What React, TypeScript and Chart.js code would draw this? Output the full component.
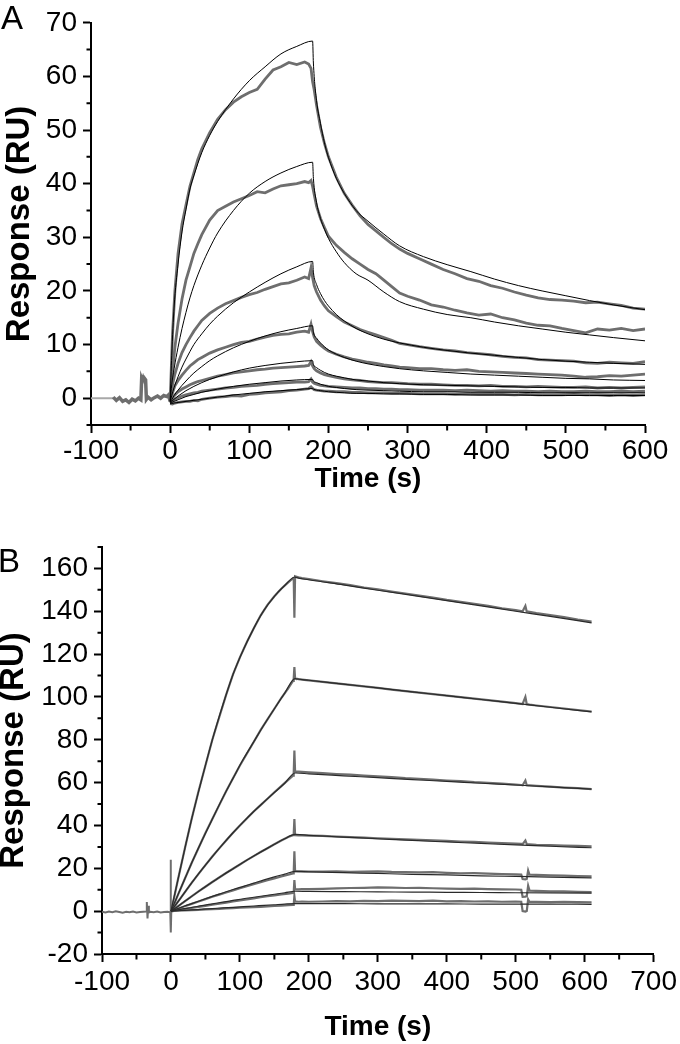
import React, { useEffect, useRef } from "react";
import { Chart, registerables } from "chart.js";
Chart.register(...registerables);

const FONT = "'Liberation Sans', Arial, Helvetica, sans-serif";

// ---------------- Panel A ----------------
const xTicksA = [-100, 0, 100, 200, 300, 400, 500, 600];
const xMinorA = [-50, 50, 150, 250, 350, 450, 550];
const yTicksA = [0, 10, 20, 30, 40, 50, 60, 70];
const yMinorA = [-5, 5, 15, 25, 35, 45, 55, 65];

const tA_pre = [-100, -72];
const A_pre = [0, 0];

const tA_base = [-72, -68, -64, -60, -56, -52, -48, -44, -40, -37, -36, -35, -34, -33, -32, -31, -30, -28, -24, -20, -16, -12, -8, -4, -2, 0];
const A_base = [0.2, -0.4, 0.1, -0.6, -0.3, -0.8, -0.2, -0.5, 0, -0.3, 3.6, 3.2, 3.7, 3.3, 3.6, 3.4, -0.2, 0.2, -0.3, 0.1, 0.4, 0, 0.5, 0.3, 0.6, -0.6];

const tA = [0, 3, 6, 10, 15, 20, 25, 30, 35, 40, 50, 60, 70, 80, 90, 100, 110, 120, 130, 140, 150, 160, 170, 175, 178, 180, 182, 185, 190, 195, 200, 210, 220, 230, 240, 250, 260, 270, 280, 290, 300, 315, 330, 345, 360, 375, 390, 405, 420, 435, 450, 465, 480, 495, 510, 525, 540, 555, 570, 585, 600];
const A_d1 = [-0.5, 12, 20, 27, 32.5, 36, 39.5, 42, 44.5, 46.5, 49.5, 52, 53.8, 55.2, 56.2, 57, 57.6, 59.5, 61.2, 61.8, 62.6, 62.2, 62.7, 62.3, 61.5, 59, 57.5, 54.6, 50.5, 47.5, 45, 41.2, 38.2, 36, 34, 32.4, 31.2, 30, 28.8, 27.8, 27, 26, 25, 24, 23.2, 22.3, 21.8, 21, 20.5, 19.8, 19.2, 18.7, 18.4, 18.3, 18.1, 17.8, 17.9, 17.6, 17.3, 16.8, 16.6];
const A_d2 = [-0.6, 5, 9.5, 14, 18.5, 22, 24.5, 27, 28.8, 30.5, 33.2, 35, 35.8, 36.6, 37.2, 37.8, 38.5, 38.3, 39, 39.6, 39.8, 40, 40.4, 40.2, 40.6, 39.5, 38, 35.8, 33.5, 31.8, 30.2, 28.5, 27.2, 26, 25, 24, 23.2, 22, 20.8, 19.6, 19, 18.3, 17.4, 17, 16.4, 15.9, 15.5, 15.7, 15, 14.6, 14, 13.6, 13.5, 13, 12.6, 12.2, 12.9, 12.7, 13, 12.6, 12.9];
const A_d3 = [-0.6, 2.5, 4.5, 6.5, 8.5, 10, 11.3, 12.5, 13.5, 14.5, 15.8, 16.8, 17.6, 18.2, 18.8, 19.3, 19.7, 20.3, 20.8, 21.3, 21.5, 22, 22.6, 22.3, 24.3, 22.5, 21, 19.8, 18.3, 17.2, 16.3, 15.2, 14.2, 13.5, 12.8, 12.3, 11.8, 11.3, 10.8, 10.2, 10, 9.6, 9.3, 9, 8.8, 8.5, 8.3, 8.1, 7.8, 7.6, 7.5, 7.2, 7.1, 7, 6.9, 6.6, 6.5, 6.7, 6.6, 6.5, 6.8];
const A_d4 = [-0.7, 1, 2.3, 3.3, 4.3, 5.2, 6, 6.6, 7.2, 7.6, 8.4, 9, 9.5, 10, 10.4, 10.6, 11, 11.4, 11.7, 11.9, 12, 12.3, 12.5, 12.3, 13.8, 12.4, 11.4, 10.6, 9.9, 9.3, 8.8, 8.2, 7.7, 7.3, 7, 6.7, 6.5, 6.2, 6, 5.8, 5.7, 5.5, 5.5, 5.3, 5.2, 5.3, 5, 4.9, 4.8, 4.7, 4.6, 4.5, 4.4, 4.3, 4.1, 3.9, 4, 4.2, 4.1, 4.3, 4.5];
const A_d5 = [-0.8, 0, 0.6, 1.2, 1.7, 2.1, 2.5, 2.8, 3.1, 3.3, 3.7, 4.1, 4.4, 4.7, 4.9, 5.1, 5.3, 5.4, 5.6, 5.7, 5.8, 5.9, 6, 6.1, 6.8, 6, 5.5, 5.1, 4.7, 4.4, 4.2, 3.9, 3.6, 3.4, 3.3, 3.1, 3, 2.9, 2.9, 2.8, 2.7, 2.6, 2.6, 2.5, 2.4, 2.4, 2.3, 2.4, 2.2, 2.2, 2.1, 2.2, 2.1, 2, 2, 2.1, 1.9, 2, 1.9, 2, 2.1];
const A_d6 = [-0.9, -0.5, -0.2, 0.1, 0.4, 0.6, 0.8, 1, 1.1, 1.3, 1.5, 1.7, 1.9, 2, 2.2, 2.3, 2.4, 2.6, 2.7, 2.8, 2.9, 3, 3, 3.1, 3.6, 3, 2.8, 2.6, 2.4, 2.3, 2.2, 2.1, 2, 1.9, 1.9, 1.8, 1.8, 1.7, 1.7, 1.6, 1.6, 1.5, 1.5, 1.5, 1.4, 1.5, 1.4, 1.3, 1.4, 1.3, 1.3, 1.2, 1.3, 1.2, 1.2, 1.3, 1.2, 1.2, 1.3, 1.2, 1.3];
const A_d7 = [-1, -1.1, -0.9, -0.8, -0.7, -0.6, -0.6, -0.4, -0.5, -0.2, 0, 0.2, 0.3, 0.5, 0.4, 0.7, 0.8, 1, 1.1, 1.2, 1.4, 1.5, 1.7, 1.8, 2.1, 1.8, 1.6, 1.5, 1.4, 1.3, 1.3, 1.2, 1.2, 1.1, 1.1, 1, 1, 1, 0.9, 0.9, 0.9, 0.8, 0.8, 0.8, 0.7, 0.8, 0.7, 0.7, 0.7, 0.6, 0.7, 0.6, 0.6, 0.6, 0.7, 0.6, 0.6, 0.5, 0.6, 0.5, 0.6];

const tA_fit = [0, 2, 5, 10, 15, 20, 25, 30, 40, 50, 60, 80, 100, 120, 140, 160, 180, 181, 185, 190, 195, 200, 210, 220, 235, 250, 270, 290, 320, 350, 380, 410, 440, 470, 500, 530, 560, 600];
const A_f1 = [-0.5, 8, 17, 25, 31, 35.2, 39, 41.5, 45.8, 49, 51.6, 55.8, 59.2, 61.8, 64.2, 65.6, 66.6, 62.5, 55.5, 51.2, 47.6, 44.9, 41, 38.2, 35, 33, 30.6, 28.4, 26.4, 24.9, 23.6, 22.2, 21, 20, 19.1, 18.2, 17.4, 16.5];
const A_f2 = [-0.6, 2.5, 5.5, 9.5, 13, 16, 18.7, 21, 24.8, 28, 30.8, 35, 38.2, 40.4, 42, 43.2, 44, 41, 36.5, 33.5, 31.5, 29.8, 27.3, 25.3, 23.2, 22, 19.8, 18, 16.6, 15.6, 15, 14.2, 13.5, 12.9, 12.3, 11.8, 11.3, 10.7];
const A_f3 = [-0.6, 0.5, 2, 4, 5.8, 7.3, 8.7, 10, 12, 13.8, 15.3, 17.8, 19.8, 21.6, 23.2, 24.5, 25.5, 23.5, 21.2, 19.5, 18.2, 17.2, 15.6, 14.4, 13, 12, 11, 10.3, 9.5, 8.9, 8.4, 8, 7.6, 7.2, 6.9, 6.7, 6.5, 6.3];
const A_f4 = [-0.7, -0.3, 0.5, 1.5, 2.4, 3.2, 4, 4.7, 5.9, 7, 7.9, 9.4, 10.6, 11.6, 12.4, 13, 13.5, 12.3, 11.2, 10.3, 9.6, 9, 8.2, 7.6, 6.9, 6.4, 5.9, 5.5, 5.1, 4.8, 4.5, 4.3, 4.1, 3.9, 3.7, 3.6, 3.4, 3.3];
const A_f5 = [-0.8, -0.6, -0.2, 0.4, 0.9, 1.4, 1.8, 2.2, 2.9, 3.5, 4, 4.9, 5.6, 6.1, 6.5, 6.8, 7, 6.3, 5.7, 5.2, 4.8, 4.5, 4.1, 3.8, 3.4, 3.2, 2.9, 2.7, 2.5, 2.4, 2.3, 2.2, 2.1, 2, 2, 1.9, 1.9, 1.9];
const A_f6 = [-0.9, -0.8, -0.6, -0.3, 0, 0.3, 0.5, 0.7, 1.1, 1.4, 1.7, 2.2, 2.6, 2.9, 3.2, 3.4, 3.5, 3.2, 2.9, 2.6, 2.4, 2.2, 2, 1.8, 1.6, 1.5, 1.4, 1.3, 1.2, 1.2, 1.1, 1.1, 1.1, 1, 1, 1, 1, 1];
const A_f7 = [-1, -1, -0.9, -0.8, -0.7, -0.6, -0.5, -0.4, -0.2, 0, 0.2, 0.6, 0.9, 1.2, 1.4, 1.6, 1.8, 1.7, 1.5, 1.4, 1.3, 1.2, 1.1, 1, 0.9, 0.9, 0.8, 0.8, 0.7, 0.7, 0.6, 0.6, 0.6, 0.5, 0.5, 0.5, 0.5, 0.5];

// ---------------- Panel B ----------------
const xTicksB = [-100, 0, 100, 200, 300, 400, 500, 600, 700];
const xMinorB = [-50, 50, 150, 250, 350, 450, 550, 650];
const yTicksB = [-20, 0, 20, 40, 60, 80, 100, 120, 140, 160];
const yMinorB = [-10, 10, 30, 50, 70, 90, 110, 130, 150, 170];

const tB_base = [-100, -95, -90, -85, -80, -75, -70, -65, -60, -55, -50, -45, -40, -36, -35, -34, -33, -32, -30, -25, -20, -15, -10, -5, -2, -1, -0.5, 0, 0.5];
const B_base = [-0.3, -0.6, -0.2, -0.5, -0.1, -0.4, -0.7, -0.3, -0.5, -0.2, -0.6, -0.4, -0.3, -0.2, 4.3, -3.4, 2.5, -0.6, -0.3, -0.5, -0.2, -0.6, -0.4, -0.3, -0.5, -0.3, 24, -10, 0];

const tB = [0, 1, 2, 5, 10, 20, 30, 40, 50, 60, 70, 80, 90, 100, 110, 120, 130, 140, 150, 160, 170, 177, 178, 179, 180, 181, 185, 190, 200, 220, 240, 260, 280, 300, 320, 340, 360, 380, 400, 420, 440, 460, 480, 500, 508, 510, 514, 516, 518, 520, 530, 550, 570, 590, 610];
const B_d1 = [0, 0.5, 2.5, 7, 14.5, 29, 43, 56, 68, 80, 90.5, 101, 110.5, 118.5, 125.5, 132, 138, 143, 147, 150.5, 153.5, 155.5, 156, 137, 156.3, 156.2, 155.8, 155.5, 155, 154, 153.1, 152.2, 151.1, 150.2, 149.2, 148.3, 147.3, 146.4, 145.3, 144.4, 143.5, 142.5, 141.4, 140.5, 140.1, 140, 142.5, 139.8, 139.8, 139.7, 139.1, 138.2, 137.3, 136.1, 135.2];
const B_d2 = [0, 0.3, 1, 3.5, 7.5, 15, 22.5, 29.5, 36.5, 43, 49.5, 56, 62, 68, 73.5, 79, 84.5, 89.5, 94.5, 99.5, 104, 107.5, 108.5, 114, 108.8, 108.6, 108.3, 108.1, 107.7, 107, 106.3, 105.6, 104.9, 104.2, 103.4, 102.7, 102, 101.3, 100.6, 99.9, 99.2, 98.5, 97.8, 97.1, 96.8, 96.7, 100, 96.6, 96.5, 96.4, 96, 95.3, 94.6, 93.9, 93.2];
const B_d3 = [0, 0.2, 0.5, 2, 4.3, 8.8, 13.2, 17.4, 21.5, 25.5, 29.3, 33, 36.6, 40, 43.3, 46.5, 49.5, 52.5, 55.5, 58.4, 61.3, 63.3, 64, 75, 65.3, 65.2, 65.1, 65, 64.8, 64.4, 64, 63.7, 63.3, 62.9, 62.6, 62.1, 61.8, 61.4, 61, 60.7, 60.2, 59.9, 59.5, 59.1, 58.9, 58.8, 61, 58.8, 58.7, 58.7, 58.5, 58.1, 57.7, 57.4, 57];
const B_d4 = [0, 0.1, 0.3, 1, 2.2, 4.6, 6.9, 9.2, 11.4, 13.6, 15.7, 17.8, 19.8, 21.8, 23.8, 25.7, 27.6, 29.4, 31.2, 33, 34.6, 35.5, 35.8, 43, 35.6, 35.5, 35.4, 35.4, 35.3, 35.1, 34.8, 34.6, 34.3, 34, 33.8, 33.5, 33.3, 33, 32.8, 32.5, 32.3, 32, 31.8, 31.5, 31.4, 31.3, 33, 31.3, 31.2, 31.2, 31, 30.8, 30.6, 30.5, 30.3];
const B_d5 = [0, 0, 0.2, 0.5, 1.1, 2.3, 3.4, 4.5, 5.6, 6.7, 7.7, 8.7, 9.7, 10.7, 11.7, 12.6, 13.5, 14.4, 15.3, 16.2, 17, 17.6, 17.8, 28, 18.7, 18.7, 18.6, 18.6, 18.5, 18.5, 18.6, 18.4, 18.5, 18.6, 18.3, 18.2, 18.1, 18.2, 17.9, 17.7, 17.8, 17.5, 17.3, 17.2, 17.1, 15, 14.8, 15, 19, 17, 16.9, 16.7, 16.6, 16.4, 16.3];
const B_d6 = [0, 0, 0.1, 0.3, 0.5, 1, 1.5, 2, 2.5, 3, 3.5, 4, 4.5, 5, 5.5, 6, 6.5, 7, 7.4, 7.8, 8.2, 8.5, 8.6, 14.5, 10.3, 10.3, 10.2, 10.3, 10.3, 10.4, 10.6, 10.8, 10.9, 11.1, 11, 10.8, 10.9, 10.7, 10.5, 10.4, 10.5, 10.3, 10.2, 10.1, 10, 6.7, 6.8, 7, 11.9, 9.6, 9.5, 9.3, 9.2, 9, 8.9];
const B_d7 = [0, 0, 0, 0.1, 0.2, 0.3, 0.5, 0.6, 0.8, 0.9, 1.1, 1.3, 1.4, 1.6, 1.7, 1.9, 2, 2.2, 2.4, 2.6, 2.8, 2.9, 3, 7, 4.4, 4.5, 4.4, 4.5, 4.4, 4.5, 4.7, 4.6, 4.8, 4.7, 4.9, 4.8, 4.7, 4.9, 4.6, 4.7, 4.5, 4.6, 4.4, 4.5, 4.4, 0, -0.2, 0.1, 5.5, 4.3, 4.3, 4.2, 4.4, 4.2, 4.1];

const tB_fit = [0, 10, 20, 30, 45, 60, 75, 90, 105, 120, 135, 150, 165, 180, 181, 200, 250, 300, 350, 400, 450, 500, 550, 610];
const B_f1 = [0, 14.5, 29, 43, 62, 80, 96, 110.5, 122, 132, 140.5, 147, 152, 156, 155.8, 154.7, 152.3, 149.8, 147.4, 145, 142.5, 140, 137.6, 134.6];
const B_f2 = [0, 7.5, 15, 22.5, 33, 43, 52.8, 62, 71, 79, 87, 94.5, 101.8, 108.6, 108.5, 107.8, 106, 104.2, 102.4, 100.6, 98.8, 97, 95.2, 93];
const B_f3 = [0, 4.3, 8.8, 13.2, 19.5, 25.5, 31.2, 36.6, 41.7, 46.5, 51, 55.4, 59.7, 64.5, 64.5, 64.1, 63.2, 62.3, 61.4, 60.6, 59.7, 58.9, 58, 57];
const B_f4 = [0, 2.2, 4.6, 6.9, 10.3, 13.6, 16.8, 19.8, 22.8, 25.7, 28.5, 31.2, 33.8, 35.8, 35.8, 35.4, 34.6, 33.8, 33, 32.3, 31.6, 30.9, 30.3, 29.6];
const B_f5 = [0, 1.2, 2.4, 3.5, 5.2, 6.9, 8.5, 10.1, 11.6, 13.1, 14.6, 16, 17.3, 18.6, 18.6, 18.4, 18, 17.6, 17.2, 16.9, 16.5, 16.2, 15.9, 15.5];
const B_f6 = [0, 0.6, 1.2, 1.7, 2.6, 3.4, 4.2, 5, 5.8, 6.5, 7.2, 7.9, 8.6, 9.3, 9.3, 9.2, 9.1, 9, 8.9, 8.8, 8.7, 8.6, 8.5, 8.4];
const B_f7 = [0, 0.2, 0.4, 0.6, 0.9, 1.2, 1.5, 1.8, 2.1, 2.4, 2.7, 3, 3.3, 3.5, 3.5, 3.5, 3.5, 3.4, 3.4, 3.4, 3.3, 3.3, 3.3, 3.2];

// ---------------- helpers ----------------
const pts = (xs: number[], ys: number[]) => xs.map((x, i) => ({ x, y: ys[i] }));

function line(xs: number[], ys: number[], color: string, width: number, smooth = false) {
  return {
    data: pts(xs, ys),
    borderColor: color,
    borderWidth: width,
    pointRadius: 0,
    fill: false,
    tension: 0,
    cubicInterpolationMode: smooth ? ("monotone" as const) : ("default" as const),
  };
}

function minorTickPlugin(xMinor: number[], yMinor: number[]) {
  return {
    id: "minorTicks",
    afterDraw(chart: any) {
      const { ctx } = chart;
      const x = chart.scales.x;
      const y = chart.scales.y;
      ctx.save();
      ctx.strokeStyle = "#000";
      ctx.lineWidth = 2;
      ctx.beginPath();
      xMinor.forEach((v) => {
        const px = x.getPixelForValue(v);
        ctx.moveTo(px, x.top);
        ctx.lineTo(px, x.top + 5.5);
      });
      yMinor.forEach((v) => {
        const py = y.getPixelForValue(v);
        ctx.moveTo(y.right, py);
        ctx.lineTo(y.right - 4.5, py);
      });
      ctx.stroke();
      ctx.restore();
    },
  };
}

function makeOptions(p: {
  xMin: number; xMax: number; yMin: number; yMax: number;
  xTicks: number[]; yTicks: number[];
  yWidth: number; xHeight: number;
  padTop: number; padRight: number;
  xTickPad: number; xTitlePadBottom: number; yTitlePadTop: number;
}) {
  const axisCommon = {
    border: { display: true, color: "#000", width: 2 },
    grid: { display: true, drawOnChartArea: false, drawTicks: true, tickLength: 8, tickWidth: 2, tickColor: "#000" },
  };
  return {
    responsive: false,
    animation: false as const,
    events: [] as any[],
    layout: { padding: { left: 0, right: p.padRight, top: p.padTop, bottom: 0 } },
    plugins: { legend: { display: false }, tooltip: { enabled: false }, title: { display: false } },
    scales: {
      x: {
        type: "linear" as const,
        min: p.xMin,
        max: p.xMax,
        ...axisCommon,
        afterBuildTicks: (s: any) => { s.ticks = p.xTicks.map((v) => ({ value: v })); },
        afterFit: (s: any) => { s.height = p.xHeight; },
        ticks: {
          color: "#000", font: { family: FONT, size: 28 }, padding: p.xTickPad,
          maxRotation: 0, minRotation: 0, autoSkip: false,
          callback: (v: any) => String(v),
        },
        title: {
          display: true, text: "Time (s)", color: "#000",
          font: { family: FONT, size: 28, weight: "bold" as const },
          padding: { top: 0, bottom: p.xTitlePadBottom },
        },
      },
      y: {
        type: "linear" as const,
        min: p.yMin,
        max: p.yMax,
        ...axisCommon,
        afterBuildTicks: (s: any) => { s.ticks = p.yTicks.map((v) => ({ value: v })); },
        afterFit: (s: any) => { s.width = p.yWidth; },
        ticks: {
          color: "#000", font: { family: FONT, size: 28 }, padding: 6, autoSkip: false,
          callback: (v: any) => String(v),
        },
        title: {
          display: true, text: "Response (RU)", color: "#000",
          font: { family: FONT, size: 33, weight: "bold" as const, lineHeight: 0.85 },
          padding: { top: p.yTitlePadTop, bottom: 0 },
        },
      },
    },
  };
}

export default function App() {
  const refA = useRef<HTMLCanvasElement>(null);
  const refB = useRef<HTMLCanvasElement>(null);

  useEffect(() => {
    const dataGrayA = "#6e6e6e";
    const fitA = "#000000";
    const chartA = new Chart(refA.current as HTMLCanvasElement, {
      type: "line",
      data: {
        datasets: [
          line(tA_fit, A_f1, fitA, 1, true),
          line(tA_fit, A_f2, fitA, 1, true),
          line(tA_fit, A_f3, fitA, 1, true),
          line(tA_fit, A_f4, fitA, 1, true),
          line(tA_fit, A_f5, fitA, 1, true),
          line(tA_fit, A_f6, fitA, 1, true),
          line(tA_fit, A_f7, fitA, 1, true),
          line(tA, A_d1, dataGrayA, 2.8),
          line(tA, A_d2, dataGrayA, 2.8),
          line(tA, A_d3, dataGrayA, 2.8),
          line(tA, A_d4, dataGrayA, 2.8),
          line(tA, A_d5, dataGrayA, 2.8),
          line(tA, A_d6, dataGrayA, 2.8),
          line(tA, A_d7, dataGrayA, 2.8),
          line(tA_base, A_base, dataGrayA, 3.5),
          line(tA_pre, A_pre, "#a8a8a8", 2),
        ] as any,
      },
      options: makeOptions({
        xMin: -100, xMax: 600, yMin: -5, yMax: 70,
        xTicks: xTicksA, yTicks: yTicksA,
        yWidth: 91, xHeight: 95, padTop: 20, padRight: 35,
        xTickPad: 1, xTitlePadBottom: 24, yTitlePadTop: 6,
      }) as any,
      plugins: [minorTickPlugin(xMinorA, yMinorA)],
    });

    const dataGrayB = "#6e6e6e";
    const fitB = "#2a2a2a";
    const chartB = new Chart(refB.current as HTMLCanvasElement, {
      type: "line",
      data: {
        datasets: [
          line(tB_fit, B_f1, fitB, 1.2, true),
          line(tB_fit, B_f2, fitB, 1.2, true),
          line(tB_fit, B_f3, fitB, 1.2, true),
          line(tB_fit, B_f4, fitB, 1.2, true),
          line(tB_fit, B_f5, fitB, 1.2, true),
          line(tB_fit, B_f6, fitB, 1.2, true),
          line(tB_fit, B_f7, fitB, 1.2, true),
          line(tB, B_d1, dataGrayB, 2.2),
          line(tB, B_d2, dataGrayB, 2.2),
          line(tB, B_d3, dataGrayB, 2.2),
          line(tB, B_d4, dataGrayB, 2.2),
          line(tB, B_d5, dataGrayB, 2.2),
          line(tB, B_d6, dataGrayB, 2.2),
          line(tB, B_d7, dataGrayB, 2.2),
          line(tB_base, B_base, dataGrayB, 2),
        ] as any,
      },
      options: makeOptions({
        xMin: -100, xMax: 700, yMin: -20, yMax: 170,
        xTicks: xTicksB, yTicks: yTicksB,
        yWidth: 102, xHeight: 90, padTop: 27, padRight: 23,
        xTickPad: 3, xTitlePadBottom: 0, yTitlePadTop: 0,
      }) as any,
      plugins: [minorTickPlugin(xMinorB, yMinorB)],
    });

    return () => {
      chartA.destroy();
      chartB.destroy();
    };
  }, []);

  const letterStyle: React.CSSProperties = {
    position: "absolute",
    fontFamily: FONT,
    fontSize: 33,
    lineHeight: "33px",
    color: "#000",
  };

  return (
    <div style={{ position: "absolute", left: 0, top: 0, width: 680, height: 1044, background: "#fff", overflow: "hidden" }}>
      <canvas ref={refA} width={680} height={520} style={{ position: "absolute", left: 0, top: 0, display: "block" }} />
      <canvas ref={refB} width={680} height={524} style={{ position: "absolute", left: 0, top: 520, display: "block" }} />
      <div style={{ ...letterStyle, left: 1, top: 1 }}>A</div>
      <div style={{ ...letterStyle, left: -2, top: 544 }}>B</div>
    </div>
  );
}
